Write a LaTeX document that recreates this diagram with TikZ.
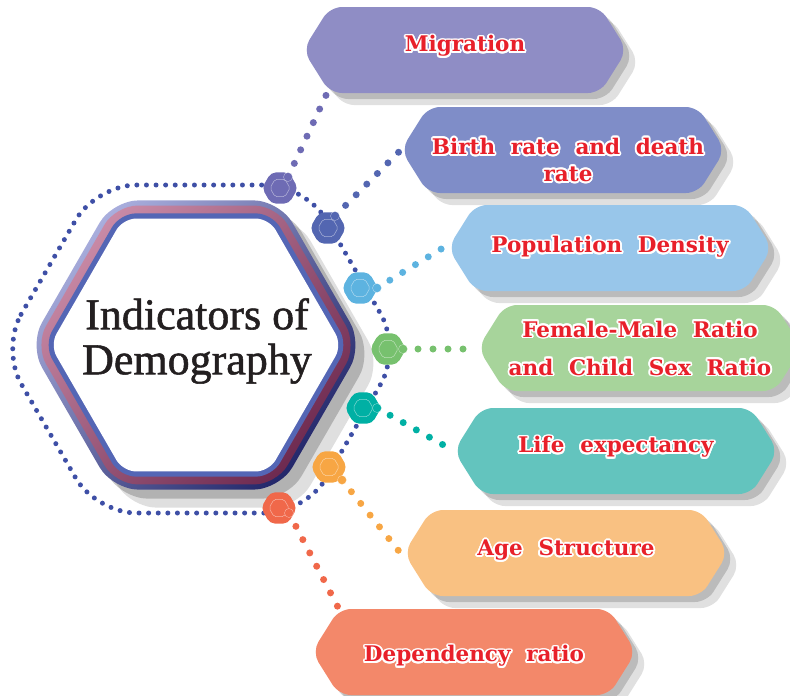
\documentclass[tikz,border=0pt]{standalone}
\usepackage{fontspec}
\setmainfont{Liberation Serif}
\newfontfamily\titlefont{Liberation Serif}[FakeBold=1.2]
\newfontfamily\boxfont[WordSpace=2.1]{DejaVu Serif}
\usepackage{contour}
\contourlength{1.8pt}
\usetikzlibrary{shapes.geometric,shadows}

\definecolor{orbitblue}{HTML}{3E4FA6}
\definecolor{ringlight}{HTML}{A9AEDD}
\definecolor{ringdark}{HTML}{23276A}
\definecolor{pinklight}{HTML}{C98AA6}
\definecolor{pinkmid}{HTML}{B3477A}
\definecolor{pinkdark}{HTML}{6E2A50}
\definecolor{rimblue}{HTML}{5466B5}
\definecolor{titleblack}{HTML}{231F20}
\definecolor{labelred}{HTML}{E8202A}
\definecolor{dotA}{HTML}{6E6BB4}
\definecolor{dotB}{HTML}{5366B1}
\definecolor{dotC}{HTML}{5DB3E0}
\definecolor{dotD}{HTML}{77C16E}
\definecolor{dotE}{HTML}{00B0A4}
\definecolor{dotF}{HTML}{F7A644}
\definecolor{dotG}{HTML}{F0684A}
\definecolor{boxA}{HTML}{8F8DC5}
\definecolor{boxB}{HTML}{7F8DC8}
\definecolor{boxC}{HTML}{98C6EA}
\definecolor{boxD}{HTML}{A7D49B}
\definecolor{boxE}{HTML}{63C4BE}
\definecolor{boxF}{HTML}{F9C182}
\definecolor{boxG}{HTML}{F3886A}

\newcommand{\lbl}[1]{\contour{white}{#1}}

\tikzset{
  hexa/.style={regular polygon, regular polygon sides=6, inner sep=0pt},
  marker/.style={hexa, minimum size=36pt, rounded corners=5pt},
  markline/.style={hexa, minimum size=20pt, rounded corners=2pt, draw=white, draw opacity=.5, line width=.5pt},
  bump/.style={circle, inner sep=0pt, minimum size=9pt, draw=white, draw opacity=.5, line width=.4pt},
  linkdots/.style={line width=7pt, line cap=round, dash pattern=on 0pt off 15pt},
  orbitdots/.style={draw=orbitblue, line width=5pt, line cap=round, dash pattern=on 0pt off 9.6pt},
  boxshadow/.style={drop shadow={shadow xshift=6pt, shadow yshift=-6pt, fill=black!60, opacity=.3},
    drop shadow={shadow xshift=12pt, shadow yshift=-12pt, fill=black!60, opacity=.2}},
  boxtext/.style={rectangle, minimum width=324pt, minimum height=86pt, inner sep=0pt,
    align=center, text=labelred, font=\boxfont\bfseries\fontsize{21.5}{27}\selectfont},
}

\begin{document}
\begin{tikzpicture}[x=1pt, y=-1pt]
\useasboundingbox (0,0) rectangle (790,696);
\clip (0,0) rectangle (790,696);

\node[hexa, minimum size=334pt, rounded corners=26pt, top color=ringlight, bottom color=ringdark, shading angle=45,
  drop shadow={shadow xshift=9pt, shadow yshift=-9pt, fill=black!70, opacity=.3},
  drop shadow={shadow xshift=18pt, shadow yshift=-18pt, fill=black!70, opacity=.18}] (ring) at (196,345) {};
\node[hexa, minimum size=322pt, rounded corners=22pt, top color=pinklight, middle color=pinkmid, bottom color=pinkdark, shading angle=45] (band) at (ring) {};
\node[hexa, minimum size=304pt, rounded corners=16pt, fill=rimblue] (rim) at (ring) {};
\node[hexa, minimum size=292pt, rounded corners=13pt, fill=white] (core) at (ring) {};
\node[align=center, text=titleblack, font=\titlefont\fontsize{44}{45}\selectfont] (title) at (197,341) {Indicators of\\Demography};

\draw[orbitdots, rounded corners=40pt] (1,349) -- (96,185) -- (306,185) -- (401,349) -- (306,513) -- (96,513) -- cycle;

\foreach \x/\y/\c in {465/50/boxA, 563/150/boxB, 610/248/boxC, 640/348/boxD, 616/451/boxE, 566/553/boxF, 474/652/boxG}
  \fill[\c, boxshadow, rounded corners=12pt] (\x,\y) ++(-162,0) -- ++(27,-43) -- ++(270,0) -- ++(27,43) -- ++(-27,43) -- ++(-270,0) -- cycle;

\node[boxtext] (mig) at (465,47) {\lbl{Migration}};
\node[boxtext] (birth) at (568,161) {\lbl{Birth rate and death}\\\lbl{rate}};
\node[boxtext] (dens) at (610,248) {\lbl{Population Density}};
\node[boxtext] (ratio) at (640,349) {\lbl{Female-Male Ratio}\\[11pt]\lbl{and Child Sex Ratio}};
\node[boxtext] (life) at (616,448) {\lbl{Life expectancy}};
\node[boxtext] (age) at (566,551) {\lbl{Age Structure}};
\node[boxtext] (dep) at (474,657) {\lbl{Dependency ratio}};

\foreach \n/\x/\y/\c/\dx/\dy in {1/280/188/dotA/8/-11, 2/328/228/dotB/7/-12, 3/360/288/dotC/17/0,
  4/388/349/dotD/15/0, 5/363/408/dotE/14/0, 6/329/467/dotF/13/13, 7/279/508/dotG/10/5}{
  \node[marker, fill=\c] (m\n) at (\x,\y) {};
  \node[markline] at (m\n) {};
  \node[bump, fill=\c] (b\n) at ([shift={(\dx,\dy)}]m\n) {};
}

\draw[linkdots, dotA] (b1.center) -- ([xshift=27pt, yshift=3pt]mig.south west);
\draw[linkdots, dotB] (b2.center) -- ([xshift=-5pt, yshift=11pt]birth.west);
\foreach \n/\t/\c in {3/dens/dotC, 4/ratio/dotD, 5/life/dotE, 6/age/dotF}
  \draw[linkdots, \c] (b\n.center) -- ([xshift=-5pt]\t.west);
\draw[linkdots, dotG] (b7.center) -- ([xshift=27pt, yshift=5pt]dep.north west);
\end{tikzpicture}
\end{document}
